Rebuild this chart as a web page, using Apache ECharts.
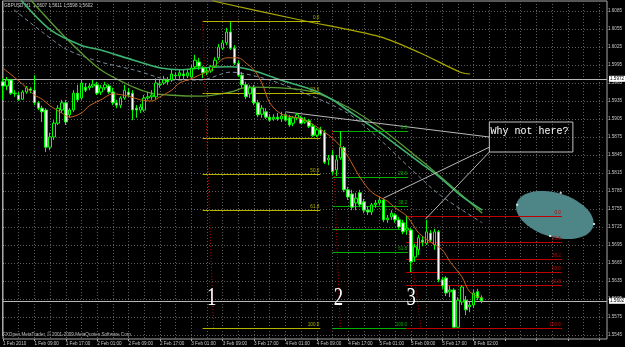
<!DOCTYPE html>
<html><head><meta charset="utf-8">
<script src="https://cdn.jsdelivr.net/npm/echarts@6.0.0/dist/echarts.min.js"></script>
<style>html,body{margin:0;padding:0;background:#000}#c{width:625px;height:347px}</style>
</head><body><div id="c"></div>
<script>
// ---------- data ----------
const tickLabels = ['1 Feb 2010','1 Feb 09:00','1 Feb 17:00','2 Feb 01:00','2 Feb 09:00','2 Feb 17:00','3 Feb 01:00','3 Feb 09:00','3 Feb 17:00','4 Feb 01:00','4 Feb 09:00','4 Feb 17:00','5 Feb 01:00','5 Feb 09:00','5 Feb 17:00','8 Feb 02:00'];
const opens = [1.5967,1.5960,1.5970,1.5948,1.5945,1.5938,1.5950,1.5955,1.5953,1.5932,1.5923,1.5920,1.5858,1.5875,1.5898,1.5920,1.5932,1.5912,1.5920,1.5948,1.5940,1.5958,1.5957,1.5960,1.5962,1.5950,1.5957,1.5960,1.5950,1.5932,1.5928,1.5940,1.5950,1.5948,1.5923,1.5920,1.5920,1.5940,1.5942,1.5942,1.5962,1.5965,1.5970,1.5970,1.5978,1.5977,1.5980,1.5977,1.5975,1.5992,1.6000,1.5990,1.5983,1.5985,1.5993,1.6007,1.6023,1.6032,1.6050,1.6023,1.5998,1.5978,1.5962,1.5947,1.5957,1.5932,1.5913,1.5917,1.5908,1.5905,1.5908,1.5905,1.5912,1.5907,1.5898,1.5907,1.5907,1.5900,1.5902,1.5893,1.5878,1.5887,1.5882,1.5837,1.5845,1.5820,1.5840,1.5857,1.5787,1.5780,1.5765,1.5782,1.5767,1.5753,1.5750,1.5762,1.5765,1.5770,1.5737,1.5742,1.5745,1.5737,1.5732,1.5720,1.5720,1.5675,1.5687,1.5703,1.5698,1.5715,1.5695,1.5717,1.5637,1.5640,1.5617,1.5620,1.5558,1.5600,1.5603,1.5592,1.5595,1.5617,1.5607];
const closes = [1.5960,1.5970,1.5948,1.5947,1.5937,1.5950,1.5957,1.5953,1.5932,1.5923,1.5917,1.5858,1.5875,1.5898,1.5923,1.5932,1.5900,1.5920,1.5948,1.5937,1.5965,1.5953,1.5960,1.5963,1.5948,1.5957,1.5962,1.5950,1.5932,1.5928,1.5940,1.5953,1.5945,1.5920,1.5920,1.5925,1.5940,1.5942,1.5945,1.5965,1.5963,1.5970,1.5967,1.5980,1.5977,1.5982,1.5977,1.5982,1.5990,1.6003,1.5993,1.5982,1.5985,1.5992,1.6003,1.6025,1.6032,1.6050,1.6023,1.5998,1.5978,1.5962,1.5942,1.5957,1.5932,1.5912,1.5923,1.5908,1.5903,1.5908,1.5905,1.5910,1.5903,1.5895,1.5907,1.5912,1.5898,1.5903,1.5893,1.5878,1.5887,1.5880,1.5833,1.5840,1.5817,1.5837,1.5858,1.5787,1.5775,1.5758,1.5773,1.5762,1.5753,1.5750,1.5762,1.5765,1.5770,1.5737,1.5740,1.5748,1.5737,1.5725,1.5717,1.5723,1.5667,1.5692,1.5707,1.5700,1.5717,1.5703,1.5717,1.5637,1.5627,1.5615,1.5620,1.5558,1.5603,1.5625,1.5587,1.5595,1.5615,1.5607,1.5602];
const highs = [1.5973,1.5975,1.5972,1.5953,1.5950,1.5953,1.5960,1.5958,1.5978,1.5935,1.5927,1.5923,1.5882,1.5903,1.5928,1.5937,1.5937,1.5923,1.5953,1.5962,1.5970,1.5965,1.5965,1.5970,1.5967,1.5962,1.5967,1.5963,1.5957,1.5937,1.5943,1.5962,1.5957,1.5953,1.5928,1.5930,1.5945,1.5950,1.5953,1.5973,1.5970,1.5977,1.5975,1.5987,1.5983,1.5987,1.5987,1.5987,1.5995,1.6012,1.6007,1.5993,1.5990,1.5995,1.6008,1.6030,1.6037,1.6057,1.6067,1.6028,1.6003,1.5983,1.5967,1.5962,1.5962,1.5937,1.5928,1.5923,1.5913,1.5913,1.5915,1.5917,1.5915,1.5912,1.5910,1.5915,1.5910,1.5908,1.5905,1.5897,1.5890,1.5892,1.5887,1.5845,1.5853,1.5845,1.5885,1.5860,1.5792,1.5787,1.5782,1.5787,1.5772,1.5760,1.5765,1.5770,1.5775,1.5773,1.5745,1.5753,1.5748,1.5742,1.5737,1.5743,1.5723,1.5697,1.5712,1.5710,1.5737,1.5720,1.5722,1.5720,1.5642,1.5643,1.5627,1.5623,1.5608,1.5628,1.5610,1.5600,1.5620,1.5622,1.5611];
const lows = [1.5937,1.5953,1.5945,1.5942,1.5935,1.5937,1.5947,1.5948,1.5928,1.5920,1.5900,1.5850,1.5853,1.5870,1.5895,1.5915,1.5895,1.5907,1.5917,1.5933,1.5937,1.5950,1.5953,1.5957,1.5945,1.5945,1.5953,1.5947,1.5928,1.5923,1.5923,1.5937,1.5942,1.5903,1.5907,1.5915,1.5917,1.5937,1.5937,1.5938,1.5957,1.5962,1.5962,1.5967,1.5970,1.5972,1.5970,1.5973,1.5972,1.5988,1.5987,1.5973,1.5978,1.5982,1.5990,1.6003,1.6020,1.6028,1.6020,1.5995,1.5975,1.5957,1.5938,1.5940,1.5928,1.5908,1.5907,1.5905,1.5900,1.5902,1.5902,1.5900,1.5902,1.5892,1.5893,1.5903,1.5897,1.5897,1.5890,1.5875,1.5875,1.5877,1.5830,1.5828,1.5812,1.5810,1.5837,1.5783,1.5770,1.5753,1.5753,1.5758,1.5748,1.5745,1.5745,1.5757,1.5762,1.5733,1.5732,1.5737,1.5732,1.5722,1.5713,1.5712,1.5650,1.5667,1.5678,1.5693,1.5695,1.5700,1.5687,1.5633,1.5622,1.5610,1.5608,1.5557,1.5557,1.5595,1.5578,1.5583,1.5590,1.5603,1.5598];
// moving averages: [bar position, price]
const maOrange = [[0,1.5990],[5,1.5963],[8,1.5945],[10,1.5938],[12,1.5927],[15,1.5915],[17,1.5908],[20,1.5915],[22,1.5927],[25,1.5937],[28,1.5947],[32,1.5943],[35,1.5937],[38,1.5935],[40,1.5942],[43,1.5953],[45,1.5965],[48,1.5972],[50,1.5978],[53,1.5987],[55,1.6000],[57,1.6007],[60,1.6007],[62,1.5998],[64,1.5987],[66,1.5965],[68,1.5932],[71,1.5913],[75,1.5907],[78,1.5900],[82,1.5883],[84,1.5873],[86,1.5860],[88,1.5842],[91,1.5808],[94,1.5783],[98,1.5768],[100,1.5757],[103,1.5743],[106,1.5715],[109,1.5700],[112,1.5687],[114,1.5667],[117,1.5642],[119,1.5617],[122,1.5607]];
const maSeaGreen = [[4.6,1.6103],[12.2,1.6053],[19.9,1.6028],[24.9,1.6020],[33.3,1.6003],[40.2,1.5990],[45.3,1.5987],[50.4,1.5990],[58.0,1.5992],[63.1,1.5987],[70.8,1.5970],[79.2,1.5953],[84.0,1.5937],[87.8,1.5920],[91.9,1.5902],[96.2,1.5882],[101.3,1.5857],[106.4,1.5832],[111.5,1.5807],[116.6,1.5778],[122.2,1.5753]];
const maOlive = [[7.1,1.6103],[16.5,1.6037],[24.9,1.5987],[33.3,1.5958],[37.7,1.5948],[42.0,1.5945],[50.4,1.5943],[58.0,1.5950],[62.4,1.5958],[70.8,1.5957],[79.2,1.5950],[87.8,1.5925],[96.2,1.5890],[106.4,1.5837],[114.0,1.5795],[122.2,1.5748]];
const maDashed = [[2.8,1.6087],[10.4,1.6048],[16.5,1.6020],[24.9,1.6000],[33.3,1.5987],[43.5,1.5970],[50.4,1.5970],[58.0,1.5983],[66.4,1.5973],[75.1,1.5953],[87.8,1.5915],[96.2,1.5870],[103.8,1.5823],[111.5,1.5778],[122.2,1.5732]];
const maYellow = [[53.4,1.6103],[54.7,1.6100],[75.8,1.6070],[96.2,1.6042],[106.4,1.6015],[116.6,1.5983],[119.1,1.5980]];

// ---------- annotations (drawn objects, in bar-position / price coordinates) ----------
const fibLevels = [0, 23.6, 38.2, 50, 61.8, 100];
const fibSets = [
  {hi:1.6068, lo:1.5557, xStart:50.9, xEnd:80.9, xLow:53.7, color:'#b4b400'},
  {hi:1.5885, lo:1.5557, xStart:84.0, xEnd:103.3, xLow:86.0, color:'#00b000'},
  {hi:1.5743, lo:1.5557, xStart:102.8, xEnd:142.5, xLow:106.6, color:'#c00000'}
];
const priceLines = [1.5972, 1.5602];
const noteLines = [[[72.0,1.5917],[124.0,1.5875]],[[97.0,1.5773],[124.0,1.5858]],[[107.7,1.5738],[124.0,1.5850]],[[126.7,1.6105],[154,1.6095]]];
const noteBox = [[124.0,1.5900],[145.3,1.5850]];
const noteText = {x:124.3, y:1.5885, text:'Why not here?'};
const waveLabels = [{x:53.2,y:1.5607,t:'1'},{x:85.5,y:1.5607,t:'2'},{x:104.1,y:1.5607,t:'3'}];
const ellipseCenter = [140.7, 1.5745];
const ellipseDots = [[131.1,1.5762],[142.2,1.5782],[150.7,1.5730],[139.5,1.5710]];

// ---------- chart ----------
const N = 155;
const cats = [];
for (let i = 0; i < N; i++) cats.push(String(i));
const labelAt = i => (i % 8 === 0 && tickLabels[i / 8]) ? tickLabels[i / 8] : '';
const FONT = 'Liberation Sans';
const fs = 4.6;

const markLineData = [];
priceLines.forEach(p => {
  markLineData.push([{coord:[0,p], lineStyle:{color:'#b8b8b8',width:1,type:'solid'},
    label:{show:true, position:'end', formatter:p.toFixed(4), backgroundColor:'#fff', color:'#000', fontSize:fs, fontFamily:FONT, padding:[1,1,0,1], distance:2}},
    {coord:[154,p]}]);
});
fibSets.forEach(f => {
  fibLevels.forEach(l => {
    const p = f.hi - (f.hi - f.lo) * l / 100;
    markLineData.push([{coord:[f.xStart,p], lineStyle:{color:f.color,width:1,type:'solid'},
      label:{show:true, position:'insideEndTop', formatter:l.toFixed(1), color:f.color, fontSize:fs, fontFamily:FONT, distance:1, padding:0}},
      {coord:[f.xEnd,p]}]);
  });
  markLineData.push([{coord:[f.xStart,f.hi], lineStyle:{color:'#c00000',width:1,type:[1,2]}, label:{show:false}},{coord:[f.xLow,f.lo]}]);
});
noteLines.forEach((s,k) => {
  markLineData.push([{coord:s[0], lineStyle:{color:k===3?'#a8a800':'#b8b8b8',width:1,type:'solid'}, label:{show:false}},{coord:s[1]}]);
});

const chart = echarts.init(document.getElementById('c'));
chart.setOption({
  backgroundColor:'#000000',
  animation:false,
  grid:[
    {left:2, right:18, top:1, bottom:8, show:true, borderColor:'#a8a8a8', borderWidth:1, backgroundColor:'transparent'},
    {left:2, right:18, top:1, bottom:12, show:false}
  ],
  xAxis:[
    {type:'category', gridIndex:0, data:cats, boundaryGap:false,
      axisLine:{show:false},
      axisTick:{show:true, interval:7, length:2, lineStyle:{color:'#a8a8a8'}},
      axisLabel:{interval:7, formatter:(v,i)=>labelAt(i), color:'#c8c8c8', fontSize:fs, fontFamily:FONT, align:'left', margin:2},
      splitLine:{show:true, interval:3, lineStyle:{color:'#5e5e5e', type:[1,2], width:1}}},
    {type:'value', gridIndex:0, min:0, max:154, show:false},
    {type:'value', gridIndex:1, min:0, max:154, show:false}
  ],
  yAxis:[
    {type:'value', gridIndex:0, min:1.553833, max:1.610167, show:false, scale:true},
    {type:'value', gridIndex:1, position:'right', min:1.5545, max:1.610167, interval:0.003,
      axisLine:{show:true, lineStyle:{color:'#a8a8a8'}},
      axisTick:{show:true, length:2, inside:false, lineStyle:{color:'#a8a8a8'}},
      axisLabel:{showMaxLabel:false, color:'#c8c8c8', fontSize:fs, fontFamily:FONT, margin:3, formatter:v=>v.toFixed(4)},
      splitLine:{show:true, lineStyle:{color:'#5e5e5e', type:[1,2], width:1}}}
  ],
  series:[
    {type:'line', name:'Dashed MA', xAxisIndex:1, yAxisIndex:0, data:maDashed, showSymbol:false, smooth:0.3, lineStyle:{color:'#7a8a9a', width:1, type:[4,3]}, z:3},
    {type:'line', name:'Olive MA', xAxisIndex:1, yAxisIndex:0, data:maOlive, showSymbol:false, smooth:0.3, lineStyle:{color:'#5a9a32', width:1.3}, z:3},
    {type:'line', name:'Green MA', xAxisIndex:1, yAxisIndex:0, data:maSeaGreen, showSymbol:false, smooth:0.3, lineStyle:{color:'#3cb371', width:1.6}, z:3},
    {type:'line', name:'Yellow MA', xAxisIndex:1, yAxisIndex:0, data:maYellow, showSymbol:false, smooth:0.3, lineStyle:{color:'#a8a800', width:1.2}, z:3},
    {type:'custom', name:'Ellipse', xAxisIndex:1, yAxisIndex:0, data:[ellipseCenter], z:4, clip:false,
      renderItem:(params, api) => {
        const c = api.coord([api.value(0), api.value(1)]);
        const pts = [], rx = 40, ry = 22, rot = 17 * Math.PI / 180;
        for (let k = 0; k < 60; k++) {
          const t = k / 60 * 2 * Math.PI, ex = rx * Math.cos(t), ey = ry * Math.sin(t);
          pts.push([c[0] + ex * Math.cos(rot) - ey * Math.sin(rot), c[1] + ex * Math.sin(rot) + ey * Math.cos(rot)]);
        }
        return {type:'polygon', shape:{points:pts}, style:{fill:'#4e8586'}};
      }},
    {type:'scatter', name:'Ellipse points', xAxisIndex:1, yAxisIndex:0, data:ellipseDots, symbol:'rect', symbolSize:2, itemStyle:{color:'#ffffff'}, z:5},
    {type:'candlestick', name:'GBPUSD', xAxisIndex:0, yAxisIndex:0, barWidth:3, z:6,
      data:opens.map((o,i)=>[o, closes[i], lows[i], highs[i]]),
      itemStyle:{color:'#000000', color0:'#ffffff', borderColor:'#00ff00', borderColor0:'#00ff00', borderWidth:1}},
    {type:'line', name:'Orange MA', xAxisIndex:1, yAxisIndex:0, data:maOrange, showSymbol:false, smooth:0.3, lineStyle:{color:'#c8641e', width:1}, z:7},
    {type:'line', name:'Objects', xAxisIndex:1, yAxisIndex:0, data:[[0,1.5972]], showSymbol:false, lineStyle:{opacity:0}, z:8,
      markLine:{symbol:['none','none'], silent:true, animation:false, label:{show:false}, data:markLineData},
      markArea:{silent:true, data:[[{coord:noteBox[0], itemStyle:{color:'rgba(0,0,0,0)', borderColor:'#c0c0c0', borderWidth:1}},{coord:noteBox[1]}]]}},
    {type:'custom', name:'Texts', xAxisIndex:1, yAxisIndex:0, z:9, clip:false,
      data:waveLabels.map(w=>[w.x,w.y]).concat([[noteText.x, noteText.y]]),
      renderItem:(params, api) => {
        const p = api.coord([api.value(0), api.value(1)]);
        const i = params.dataIndex;
        if (i < waveLabels.length) {
          return {type:'text', x:p[0], y:p[1], scaleX:0.72, style:{text:waveLabels[i].t, x:0, y:0, fill:'#ffffff', font:'26px "Liberation Serif"', align:'center', verticalAlign:'middle', textAlign:'center', textVerticalAlign:'middle'}};
        }
        return {type:'text', x:p[0], y:p[1], style:{text:noteText.text, x:0, y:0, fill:'#ffffff', font:'10px "Liberation Mono"', align:'left', verticalAlign:'middle', textAlign:'left', textVerticalAlign:'middle'}};
      }}
  ],
  graphic:[
    {type:'text', left:4, top:3, style:{text:'GBPUSD,H1  1.5607 1.5611 1.5598 1.5602', fill:'#d0d0d0', font:fs+'px "'+FONT+'"'}},
    {type:'text', left:3, top:332, style:{text:'FXOpen MetaTrader, \u00a9 2001-2009 MetaQuotes Software Corp.', fill:'#c0c0c0', font:fs+'px "'+FONT+'"'}}
  ]
});
</script>
</body></html>
